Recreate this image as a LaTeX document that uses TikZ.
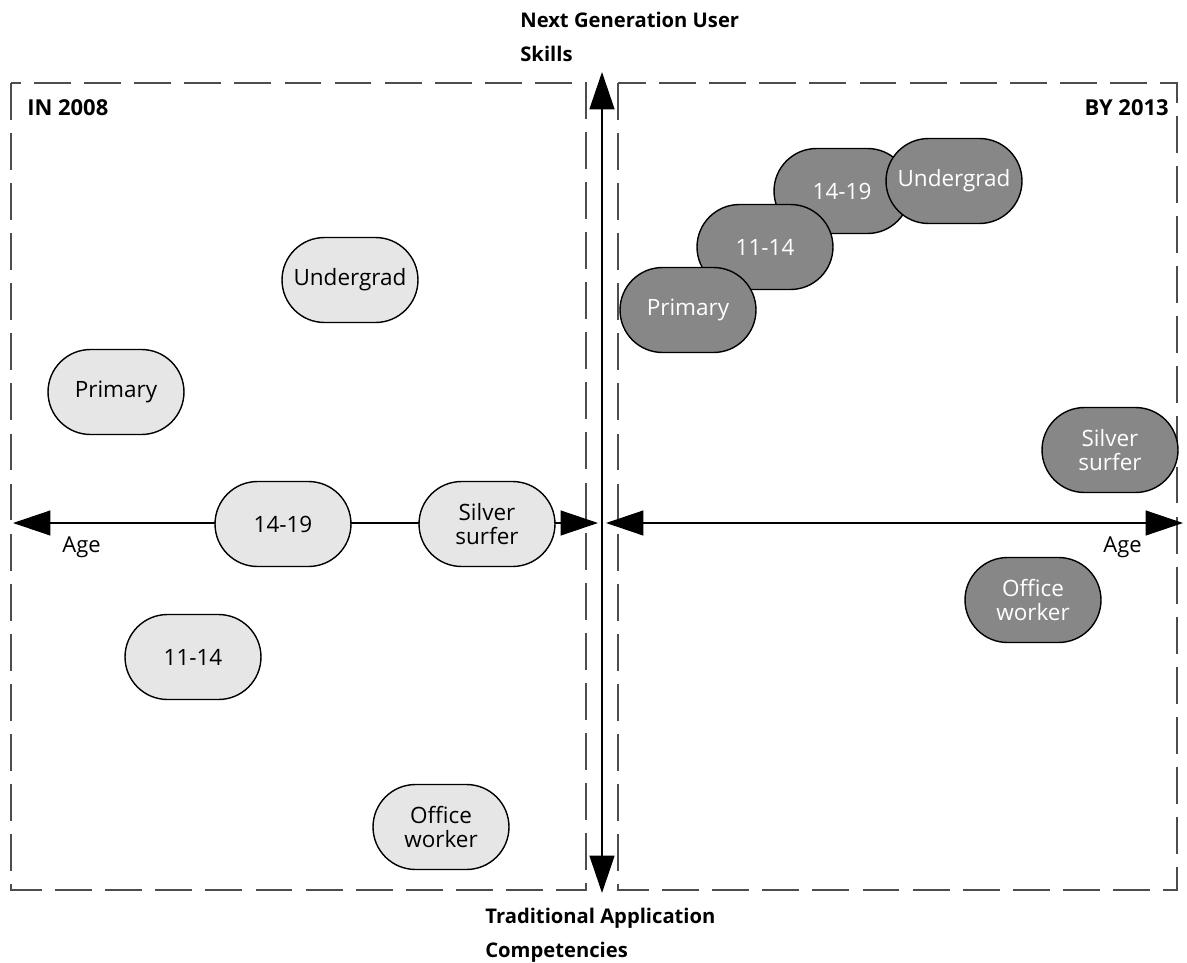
\documentclass[tikz,border=0pt]{standalone}
\usepackage{fontspec}
\setmainfont{Open Sans}
\usetikzlibrary{arrows.meta}
\definecolor{oldfill}{HTML}{E6E6E6}
\definecolor{newfill}{HTML}{878787}
\definecolor{boxline}{HTML}{4D4D4D}

\begin{document}
\begin{tikzpicture}[x=0.02cm,y=-0.02cm,
  group/.style={rectangle,rounded corners=0.85cm,draw=black,line width=0.8pt,
    minimum width=2.72cm,minimum height=1.7cm,inner sep=0pt,align=center,
    font=\fontsize{12.8}{14}\selectfont},
  old/.style={group,fill=oldfill},
  new/.style={group,fill=newfill,text=white},
  frame/.style={draw=boxline,line width=0.8pt,dash pattern=on 21pt off 7.5pt},
  axis/.style={line width=0.8pt,
    {Triangle[length=0.75cm,width=0.5cm]}-{Triangle[length=0.75cm,width=0.5cm]}},
  title/.style={font=\bfseries\fontsize{12.5}{18}\selectfont,align=left,inner sep=0pt},
  axtitle/.style={title,font=\bfseries\fontsize{11.5}{19}\selectfont},
  tag/.style={font=\fontsize{12.5}{14}\selectfont,inner sep=0pt}]
\useasboundingbox (0,0) rectangle (1187,963);
% the two periods
\draw[frame] (11,83) rectangle (586,890);
\draw[frame] (618,83) rectangle (1177,890);
\node[title,anchor=base west] (y2008) at (27,115) {IN 2008};
\node[title,anchor=base east] (y2013) at (1169,115) {BY 2013};
% axes
\coordinate (top) at (602,72);
\coordinate (bot) at (602,893);
\coordinate (lwest) at (13,523);
\coordinate (least) at (598,523);
\coordinate (rwest) at (606,523);
\coordinate (reast) at (1183,523);
\draw[axis,line width=1pt] (bot) -- (top);
\draw[axis] (lwest) -- (least);
\draw[axis] (rwest) -- (reast);
\node[axtitle,anchor=north west] (skills) at (520,12) {Next Generation User\\Skills};
\node[axtitle,anchor=north west] (trad) at (485,908) {Traditional Application\\Competencies};
\node[tag,anchor=base west] (ageL) at (62,552) {Age};
\node[tag,anchor=base west] (ageR) at (1103,552) {Age};
% in 2008
\node[old] (ugrad) at (350,280) {Undergrad};
\node[old] (prim) at (116,392) {Primary};
\node[old] (teen) at (283,524) {14-19};
\node[old] (silver) at (487,524) {Silver\\surfer};
\node[old] (mid) at (193,657) {11-14};
\node[old] (office) at (441,827) {Office\\worker};
% by 2013
\node[new] (teenB) at (842,191) {14-19};
\node[new] (ugradB) at (954,181) {Undergrad};
\node[new] (midB) at (765,247) {11-14};
\node[new] (primB) at (688,310) {Primary};
\node[new] (silverB) at (1110,450) {Silver\\surfer};
\node[new] (officeB) at (1033,600) {Office\\worker};
\end{tikzpicture}
\end{document}
